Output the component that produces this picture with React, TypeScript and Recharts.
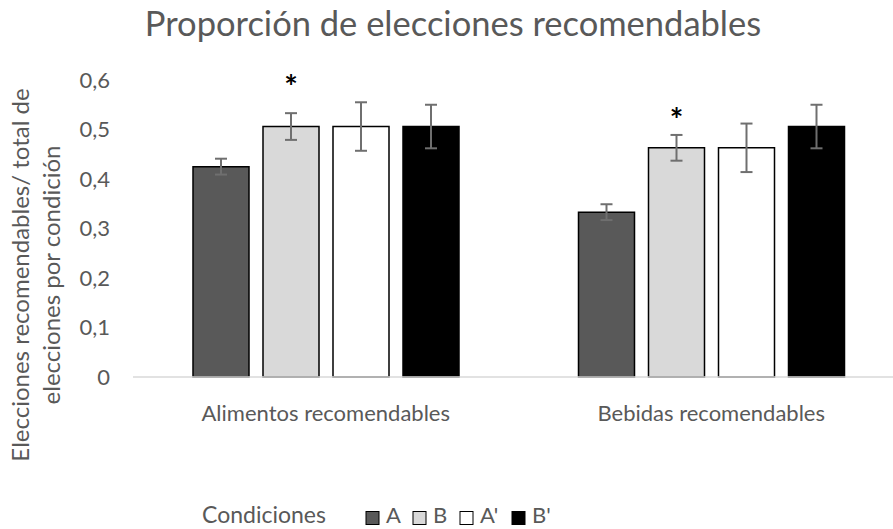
import React from "react";
import { BarChart, Bar, XAxis, YAxis, ErrorBar, LabelList } from "recharts";

// Proportion of recommended choices per condition, by product category
const categories = ["Alimentos recomendables", "Bebidas recomendables"];
const valuesA = [0.425, 0.333];
const errorsA = [0.016, 0.016];
const valuesB = [0.506, 0.463];
const errorsB = [0.027, 0.026];
const valuesA2 = [0.506, 0.463];
const errorsA2 = [0.049, 0.049];
const valuesB2 = [0.506, 0.506];
const errorsB2 = [0.044, 0.044];
// level (in axis units) at which the significance mark sits above condition B
const starLevels = [0.594, 0.528];
const yTicks = [0, 0.1, 0.2, 0.3, 0.4, 0.5, 0.6];

const seriesNames = ["A", "B", "A'", "B'"];
const seriesFills = ["#595959", "#d9d9d9", "#ffffff", "#000000"];

const data = categories.map((cat, i) => ({
  cat,
  A: valuesA[i],
  eA: errorsA[i],
  B: valuesB[i],
  eB: errorsB[i],
  A2: valuesA2[i],
  eA2: errorsA2[i],
  B2: valuesB2[i],
  eB2: errorsB2[i],
}));

const series = [
  { key: "A", err: "eA" },
  { key: "B", err: "eB" },
  { key: "A2", err: "eA2" },
  { key: "B2", err: "eB2" },
].map((s, i) => ({ ...s, name: seriesNames[i], fill: seriesFills[i] }));

const FONT = "Lato, 'Open Sans', sans-serif";
const TEXT = "#595959";

const fmtTick = (v: number) => (v === 0 ? "0" : v.toFixed(1).replace(".", ","));

const Star = (props: any) => {
  const { x, y, width, height, value, index } = props;
  const perUnit = height / value;
  const cy = y + height - starLevels[index] * perUnit;
  return (
    <text
      x={x + width / 2}
      y={cy + 16}
      textAnchor="middle"
      fontFamily={FONT}
      fontSize={32}
      fontWeight={700}
      fill="#000"
    >
      *
    </text>
  );
};

const legendSquares = [366, 413, 460, 512];

export default function App() {
  return (
    <div
      style={{
        position: "fixed",
        left: 0,
        top: 0,
        width: 893,
        height: 529,
        overflow: "hidden",
        background: "#fff",
      }}
    >
      <BarChart
        width={905}
        height={529}
        data={data}
        margin={{ top: 80, right: 1, bottom: 112, left: 0 }}
        barCategoryGap={60}
        barGap={14}
      >
        <XAxis
          dataKey="cat"
          height={40}
          axisLine={{ stroke: "#d9d9d9", strokeWidth: 1.5 }}
          tickLine={false}
          tickSize={0}
          tickMargin={28}
          tick={{ fill: TEXT, fontSize: 22, fontFamily: FONT }}
        />
        <YAxis
          width={133}
          domain={[0, 0.6]}
          ticks={yTicks}
          tickFormatter={fmtTick}
          axisLine={false}
          tickLine={false}
          tickSize={0}
          tickMargin={23}
          tick={{ fill: TEXT, fontSize: 22, fontFamily: FONT }}
        />
        {series.map((s) => (
          <Bar
            key={s.key}
            dataKey={s.key}
            name={s.name}
            fill={s.fill}
            stroke="#000"
            strokeWidth={1.5}
            isAnimationActive={false}
          >
            <ErrorBar
              dataKey={s.err}
              width={6}
              stroke="#6f6f6f"
              strokeWidth={2}
              isAnimationActive={false}
            />
            {s.key === "B" ? <LabelList dataKey="B" content={Star} /> : null}
          </Bar>
        ))}
      </BarChart>
      <svg
        width={893}
        height={529}
        style={{ position: "absolute", left: 0, top: 0, pointerEvents: "none" }}
        fontFamily={FONT}
      >
        <text x={453} y={36} textAnchor="middle" fontSize={34.5} fill={TEXT}>
          Proporción de elecciones recomendables
        </text>
        <text
          x={29}
          y={275}
          transform="rotate(-90, 29, 275)"
          textAnchor="middle"
          fontSize={24}
          fill={TEXT}
        >
          Elecciones recomendables/ total de
        </text>
        <text
          x={60}
          y={275}
          transform="rotate(-90, 60, 275)"
          textAnchor="middle"
          fontSize={24}
          fill={TEXT}
        >
          elecciones por condición
        </text>
        <text x={202} y={523} fontSize={23} fill={TEXT}>
          Condiciones
        </text>
        {series.map((s, i) => (
          <g key={s.key}>
            <rect
              x={legendSquares[i]}
              y={511.5}
              width={13}
              height={13}
              fill={s.fill}
              stroke="#000"
              strokeWidth={1}
            />
            <text x={legendSquares[i] + 20} y={523} fontSize={22} fill={TEXT}>
              {s.name}
            </text>
          </g>
        ))}
      </svg>
    </div>
  );
}
